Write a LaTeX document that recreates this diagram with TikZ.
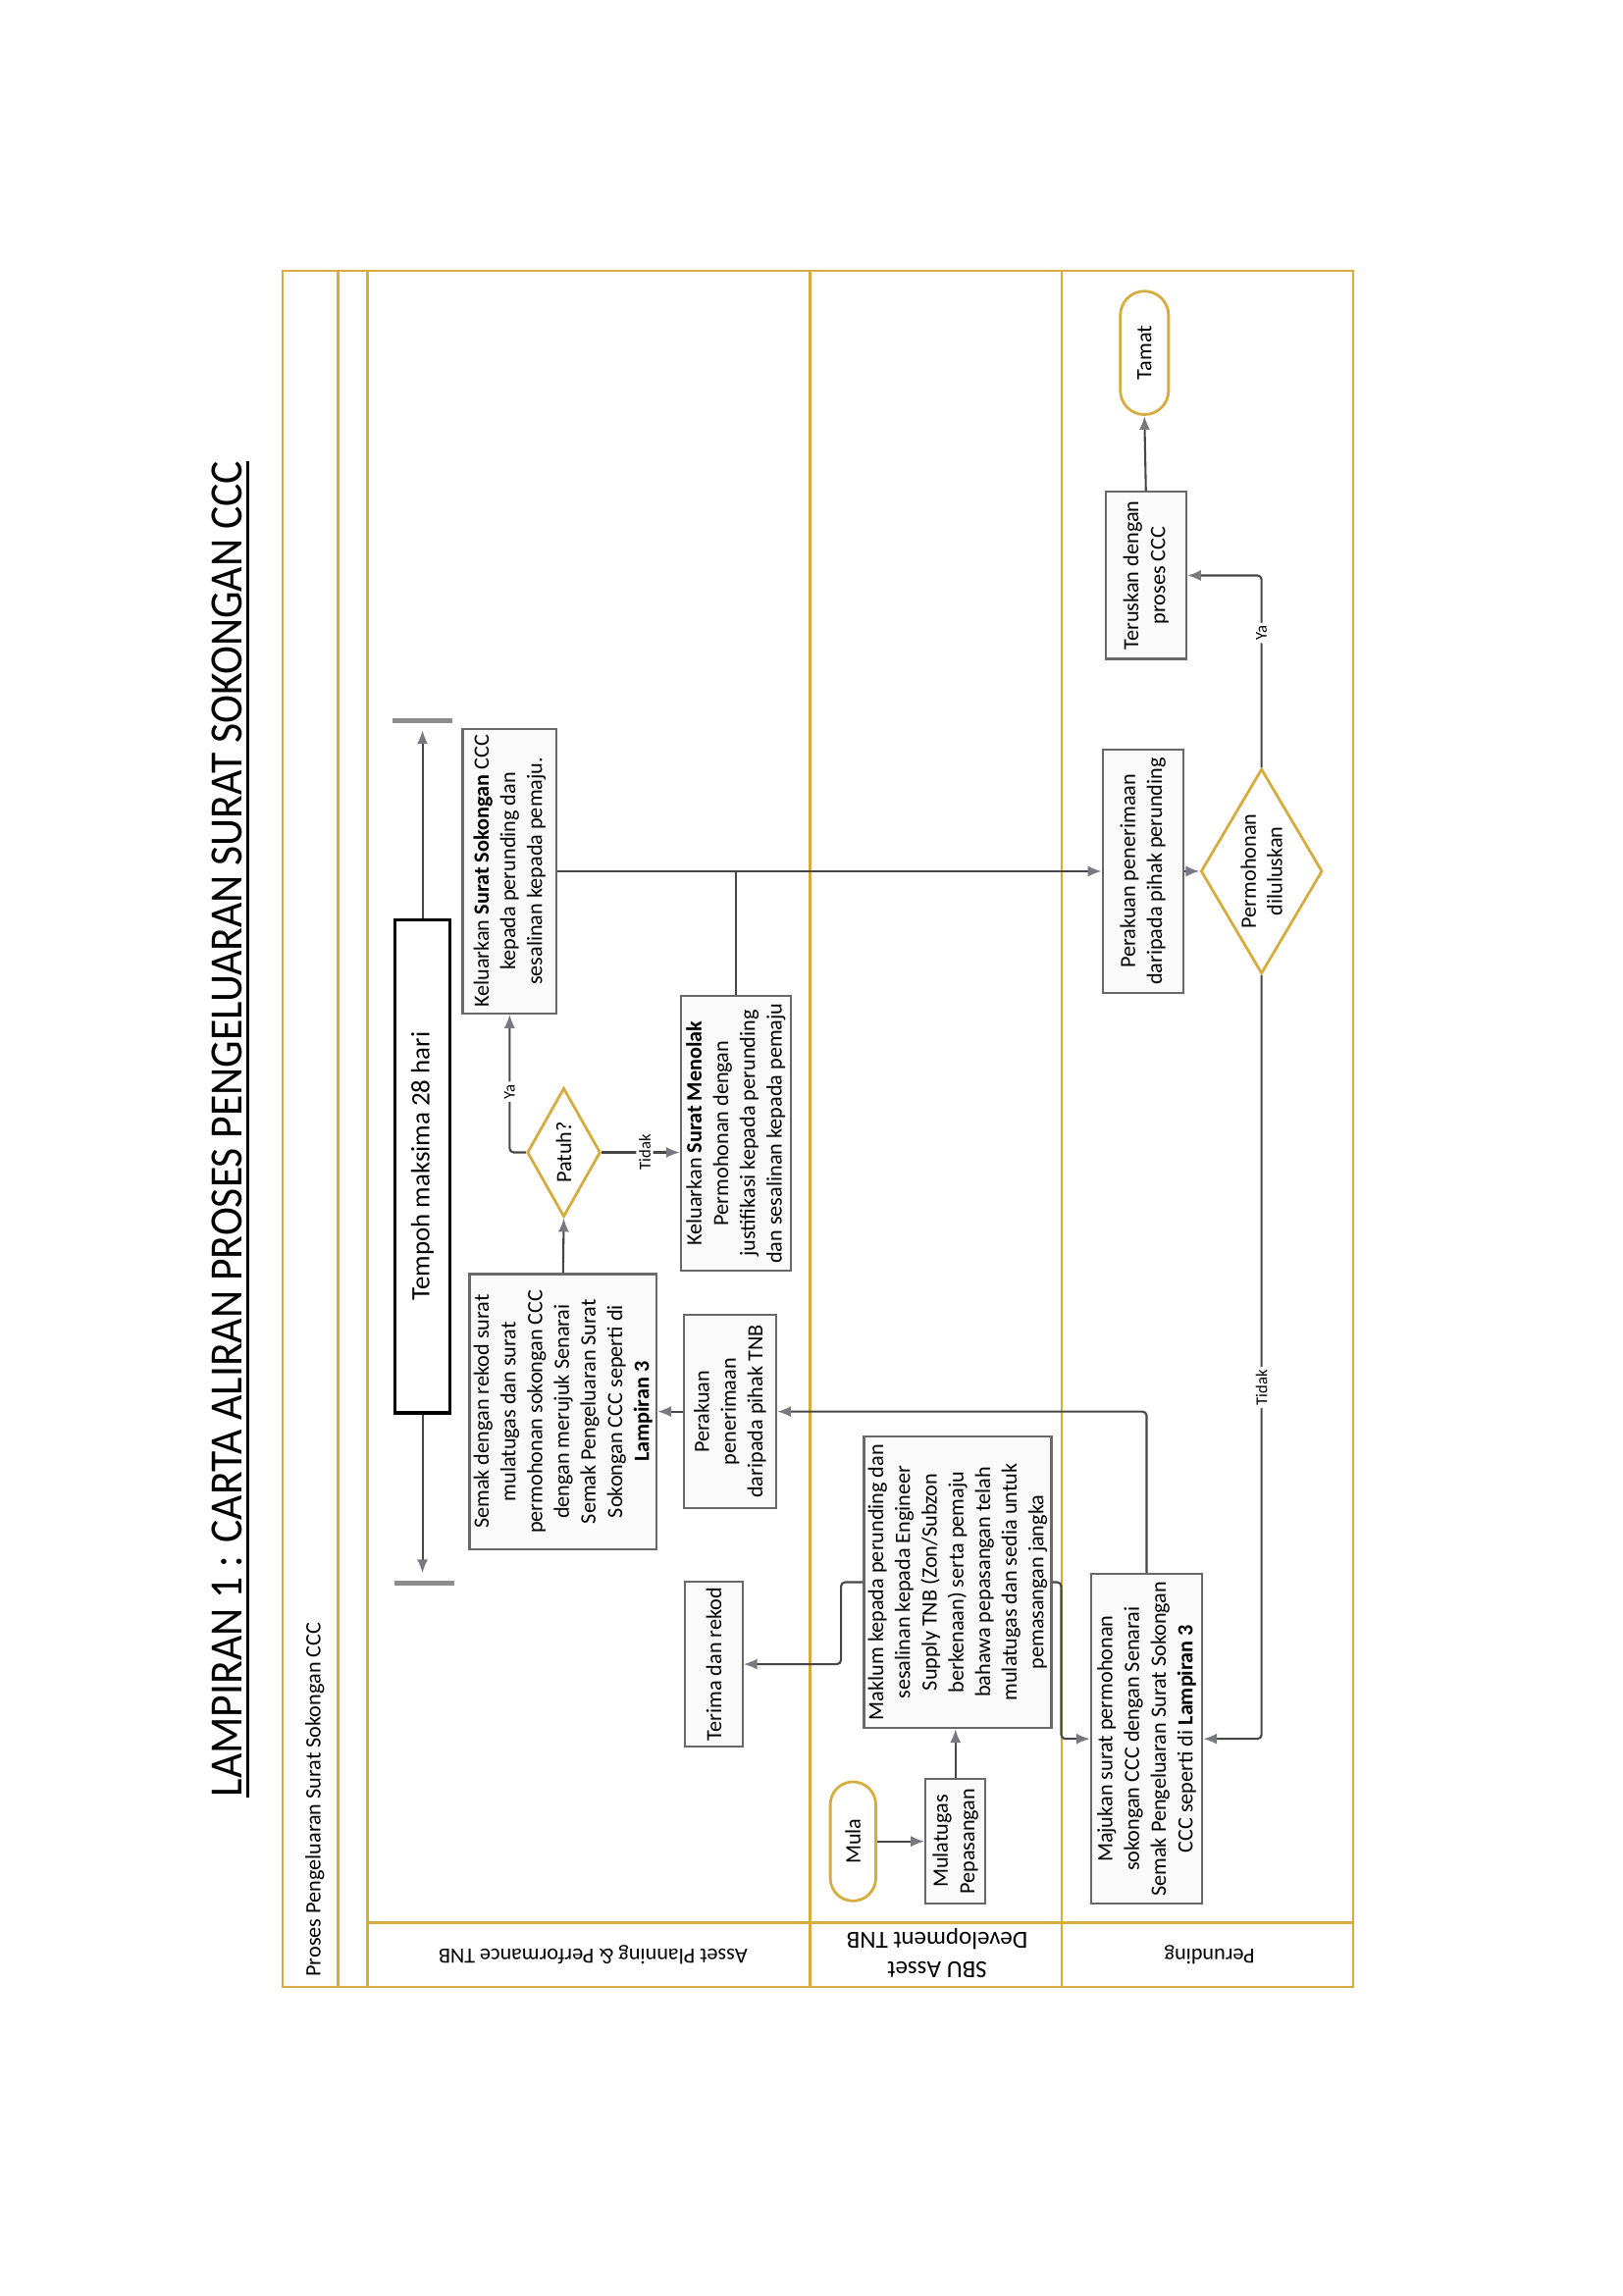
\documentclass[tikz,border=0pt]{standalone}
\usepackage{graphicx}
\usepackage{fontspec}
\setmainfont{Carlito}
\usetikzlibrary{shapes.geometric,shapes.misc,arrows.meta,calc}
\definecolor{gold}{RGB}{214,172,62}
\definecolor{boxline}{RGB}{105,105,105}
\definecolor{conn}{RGB}{70,70,70}
\definecolor{tipc}{RGB}{120,120,128}
\tikzset{
  procbox/.style={draw=boxline, fill=black!2, line width=0.8pt, rotate=90, align=center,
    inner sep=1.5pt, font=\fontsize{8}{9.8}\selectfont},
  decbox/.style={diamond, draw=gold, line width=1pt, fill=white, rotate=90, align=center,
    inner sep=0pt, font=\fontsize{8}{9.6}\selectfont},
  termbox/.style={rounded rectangle, draw=gold, line width=1pt, fill=white, rotate=90,
    inner sep=1pt, font=\fontsize{8}{9.6}\selectfont},
  flowarrow/.style={draw=conn, line width=0.75pt, -{Latex[length=5pt,width=4pt,fill=tipc,color=tipc]},
    rounded corners=1.5pt},
  plainline/.style={draw=conn, line width=0.75pt},
  lbltext/.style={fill=white, inner sep=1pt, rotate=90, font=\fontsize{6}{7}\selectfont},
  laneline/.style={draw=gold, line width=0.9pt},
  barmark/.style={fill=black!45, draw=none, minimum width=22pt, minimum height=1.8pt, inner sep=0pt},
  lanelbl/.style={rotate=180, align=center, inner sep=0pt},
}
\begin{document}
\begin{tikzpicture}[x=0.5374pt, y=-0.5374pt]
\useasboundingbox (0,0) rectangle (1108,1568);

% title
\node[rotate=90, inner sep=0pt] (title) at (155,771)
  {\resizebox{490pt}{11pt}{LAMPIRAN 1 : CARTA ALIRAN PROSES PENGELUARAN SURAT SOKONGAN CCC}};
\draw[line width=1pt] ([xshift=2pt]title.south west) -- ([xshift=2pt]title.south east);

% pool and lanes
\draw[laneline] (193,185) rectangle (924,1357);
\draw[laneline] (231,185) -- (231,1357);
\draw[laneline] (251,185) -- (251,1357);
\draw[laneline] (553,185) -- (553,1357);
\draw[laneline] (725,185) -- (725,1357);
\draw[laneline] (251,1313) -- (924,1313);

\node[rotate=90, inner sep=0pt, font=\fontsize{8}{9}\selectfont] (pool) at (215,1229)
  {Proses Pengeluaran Surat Sokongan CCC};
\node[lanelbl, font=\fontsize{8}{9}\selectfont] (lab1) at (405,1335) {Asset Planning \& Performance TNB};
\node[lanelbl, font=\fontsize{9}{11}\selectfont] (lab2) at (640,1334) {SBU Asset\\Development TNB};
\node[lanelbl, font=\fontsize{8}{9}\selectfont] (lab3) at (826,1335) {Perunding};

% nodes
\node[draw=black, fill=white, line width=1.1pt, rotate=90, minimum width=181pt, minimum height=19.9pt,
  inner sep=1pt, font=\fontsize{9.7}{11}\selectfont] (Tempoh) at (288.5,796.5) {Tempoh maksima 28 hari};
\node[barmark] (barT) at (288.5,492) {};
\node[barmark] (barB) at (290,1081) {};

\node[procbox, minimum width=101pt, minimum height=67.2pt] (Semak) at (384.5,964)
  {Semak dengan rekod surat\\mulatugas dan surat\\permohonan sokongan CCC\\dengan merujuk Senarai\\Semak Pengeluaran Surat\\Sokongan CCC seperti di\\\textbf{Lampiran 3}};
\node[decbox, shape aspect=1.76, minimum width=47.3pt, minimum height=26.9pt] (Patuh) at (385,787) {Patuh?};
\node[procbox, minimum width=104.3pt, minimum height=34.4pt] (Kel) at (348,595)
  {Keluarkan \textbf{Surat Sokongan} CCC\\kepada perunding dan\\sesalinan kepada pemaju.};
\node[procbox, minimum width=101pt, minimum height=40.3pt] (Tolak) at (502.5,774)
  {Keluarkan \textbf{Surat Menolak}\\Permohonan dengan\\justifikasi kepada perunding\\dan sesalinan kepada pemaju};
\node[procbox, minimum width=70.9pt, minimum height=33.9pt] (PerTNB) at (498.5,964)
  {Perakuan\\penerimaan\\daripada pihak TNB};
\node[procbox, minimum width=60.7pt, minimum height=21pt] (Terima) at (487.5,1136.5) {Terima dan rekod};
\node[procbox, minimum width=107pt, minimum height=67.7pt] (Maklum) at (654,1080.5)
  {Maklum kepada perunding dan\\sesalinan kepada Engineer\\Supply TNB (Zon/Subzon\\berkenaan) serta pemaju\\bahawa pepasangan telah\\mulatugas dan sedia untuk\\pemasangan jangka};
\node[termbox, minimum width=45.7pt, minimum height=16.7pt] (Mula) at (582.5,1257.5) {Mula};
\node[procbox, minimum width=45.7pt, minimum height=22pt] (Mulat) at (652.5,1257.5) {Mulatugas\\Pepasangan};
\node[procbox, minimum width=120.9pt, minimum height=40.8pt] (Maj) at (783,1187.5)
  {Majukan surat permohonan\\sokongan CCC dengan Senarai\\Semak Pengeluaran Surat Sokongan\\CCC seperti di \textbf{Lampiran 3}};
\node[procbox, minimum width=89.2pt, minimum height=29.6pt] (PerP) at (780.5,595)
  {Perakuan penerimaan\\daripada pihak perunding};
\node[decbox, shape aspect=1.69, minimum width=75.2pt, minimum height=44.6pt] (Perm) at (861.5,595) {Permohonan\\diluluskan};
\node[procbox, minimum width=61.3pt, minimum height=29.6pt] (Ter) at (782.5,393) {Teruskan dengan\\proses CCC};
\node[termbox, minimum width=47.3pt, minimum height=17.7pt] (Tamat) at (781.5,241) {Tamat};

% connectors
\draw[flowarrow] (Tempoh.east) -- ([yshift=-2.5pt]barT.south);
\draw[flowarrow] (Tempoh.west) -- ([yshift=2.5pt]barB.north -| Tempoh.west);
\draw[flowarrow] (Semak.east) -- (Patuh.west);
\draw[flowarrow] (Patuh.north) -| node[lbltext, pos=0.72] {Ya} (Kel.west);
\draw[flowarrow] (Patuh.south) -- node[lbltext, pos=0.55] {Tidak} (Patuh.south -| Tolak.north);
\draw[plainline] (Tolak.east) -- (Tolak.east |- Kel.south);
\draw[flowarrow] (Kel.south) -- (PerP.north);
\draw[flowarrow] (PerTNB.north) -- (Semak.south);
\draw[flowarrow] (Maj.east) |- (PerTNB.south);
\draw[flowarrow] (Maklum.north) -- ++(-15,0) |- (Terima.south);
\draw[flowarrow] (Maklum.south) -- ++(6,0) |- (Maj.north);
\draw[flowarrow] (Mula.south) -- (Mulat.north);
\draw[flowarrow] (Mulat.east) -- (Mulat.east |- Maklum.west);
\draw[flowarrow] (PerP.south) -- (Perm.north);
\draw[flowarrow] (Perm.east) |- node[lbltext, pos=0.35] {Ya} (Ter.south);
\draw[flowarrow] (Perm.west) |- node[lbltext, pos=0.27] {Tidak} (Maj.south);
\draw[flowarrow] (Ter.east) -- (Tamat.west);
\end{tikzpicture}
\end{document}
